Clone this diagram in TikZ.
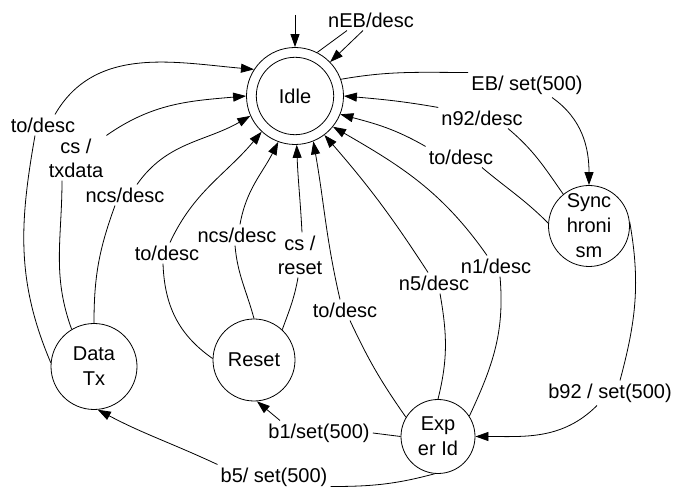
\documentclass[tikz,border=0pt]{standalone}
\usepackage{fontspec}
\setmainfont{Liberation Sans}
\usetikzlibrary{arrows.meta}
\begin{document}
\begin{tikzpicture}[x=1pt,y=1pt,
  every node/.style={font=\fontsize{20}{24}\selectfont},
  state/.style={draw, circle, inner sep=0pt, line width=0.8pt},
  stxt/.style={align=center, font=\fontsize{20}{25}\selectfont},
  lbl/.style={inner sep=3pt, align=center},
  edge/.style={line width=0.8pt},
  arr/.style={edge, -{Triangle[length=13pt,width=9pt]}},
]
\fill[white] (0,0) rectangle (675,490);
\useasboundingbox (0,0) rectangle (675,490);
% states
\node[state, minimum size=97pt, label={[stxt]center:Idle}] (Idle) at (295,394) {};
\draw[line width=0.8pt] (Idle.center) circle (38.7pt);
\node[state, minimum size=81pt, label={[stxt]center:Sync\\hroni\\sm}] (Sync) at (589,264) {};
\node[state, minimum size=86pt, label={[stxt]center:Data\\Tx}] (DataTx) at (94,123.5) {};
\node[state, minimum size=82pt, label={[stxt]center:Reset}] (Reset) at (254,130) {};
\node[state, minimum size=74pt, label={[stxt]center:Exp\\er Id}] (Exper) at (438,53.5) {};
% labels
\node[lbl] (nEB) at (371,470) {nEB/desc};
\node[lbl] (EB) at (527,405) {EB/ set(500)};
\node[lbl] (n92) at (482,372) {n92/desc};
\node[lbl] (toS) at (461,333) {to/desc};
\node[lbl] (n1) at (496,224) {n1/desc};
\node[lbl] (n5) at (434,207) {n5/desc};
\node[lbl] (toE) at (345,180) {to/desc};
\node[lbl] (csR) at (300,235) {cs /\\reset};
\node[lbl] (ncsR) at (237,255) {ncs/desc};
\node[lbl] (toR) at (167,237) {to/desc};
\node[lbl] (ncsD) at (125,295) {ncs/desc};
\node[lbl] (csD) at (76,332) {cs /\\txdata};
\node[lbl] (toD) at (43,365) {to/desc};
\node[lbl] (b1) at (319,57) {b1/set(500)};
\node[lbl] (b5) at (274,13) {b5/ set(500)};
\node[lbl] (b92) at (610,97) {b92 / set(500)};
% initial
\coordinate (init) at (295,475);
\draw[arr] (init) -- (Idle);
% self loop
\draw[edge] (Idle.63) -- ([xshift=-24pt]nEB.south);
\draw[arr] ([xshift=-8pt]nEB.south) -- (Idle.44);
% EB
\draw[edge] (Idle.20) to[out=10,in=180] (EB.north west);
\draw[arr] ([xshift=25pt]EB.south) to[out=-35,in=90] (Sync.north);
% n92
\draw[edge] (Sync.129) to[out=125,in=-40] ([xshift=26pt]n92.south);
\draw[arr] (n92.north west) to[out=170,in=-5] (Idle.0);
% to/desc from Sync
\draw[edge] (Sync.176) to[out=135,in=-40] ([xshift=21pt]toS.south);
\draw[arr] (toS.north west) to[out=150,in=-15] (Idle.-22);
% n1
\draw[edge] (Exper.33) to[out=65,in=-85] ([xshift=4pt]n1.south);
\draw[arr] ([xshift=-9pt]n1.north) to[out=125,in=-30] (Idle.-39);
% n5
\draw[edge] (Exper.north) to[out=76,in=-80] ([xshift=6pt]n5.south);
\draw[arr] ([xshift=-6pt]n5.north) to[out=123,in=-49] (Idle.-53);
% to/desc from Exper
\draw[edge] (Exper.149) to[out=125,in=-65] ([xshift=5pt]toE.south);
\draw[arr] ([xshift=-5pt]toE.north) to[out=103,in=-80] (Idle.-68);
% cs/reset
\draw[edge] (Reset.47) to[out=70,in=-100] ([xshift=-2pt]csR.south);
\draw[arr] ([xshift=2pt]csR.north) to[out=93,in=-88] (Idle.-88);
% ncs/desc from Reset
\draw[edge] (Reset.north) to[out=105,in=-85] ([xshift=-2pt]ncsR.south);
\draw[arr] ([xshift=3pt]ncsR.north) to[out=80,in=-117] (Idle.-110);
% to/desc from Reset
\draw[edge] (Reset.178) to[out=145,in=-88] ([xshift=-4pt]toR.south);
\draw[arr] ([xshift=3pt]toR.north) to[out=65,in=-130] (Idle.-133);
% ncs/desc from DataTx
\draw[edge] (DataTx.north) to[out=90,in=-110] ([xshift=-10pt]ncsD.south);
\draw[arr] ([xshift=12pt]ncsD.north) to[out=55,in=-150] (Idle.-156);
% cs/txdata
\draw[edge] (DataTx.121) to[out=110,in=-90] ([xshift=-14pt]csD.south);
\draw[arr] (csD.north east) to[out=35,in=-175] (Idle.180);
% to/desc from DataTx
\draw[edge] (DataTx.175) to[out=113,in=-100] ([xshift=-8pt]toD.south);
\draw[arr] ([xshift=12pt]toD.north) to[out=60,in=175] (Idle.147);
% b1
\draw[edge] (Exper.west) -- (b1.east);
\draw[arr] ([xshift=-39pt]b1.north) -- (Reset.-86);
% b5
\draw[edge] (Exper.-95) to[out=-165,in=0] ([yshift=3pt]b5.south east);
\draw[arr] (b5.north west) to[out=155,in=-28] (DataTx.-85);
% b92
\draw[edge] (Sync.6) to[out=-80,in=75] ([xshift=10pt]b92.north);
\draw[arr] ([xshift=-13pt]b92.south) to[out=-135,in=0] (Exper.east);
\end{tikzpicture}
\end{document}
